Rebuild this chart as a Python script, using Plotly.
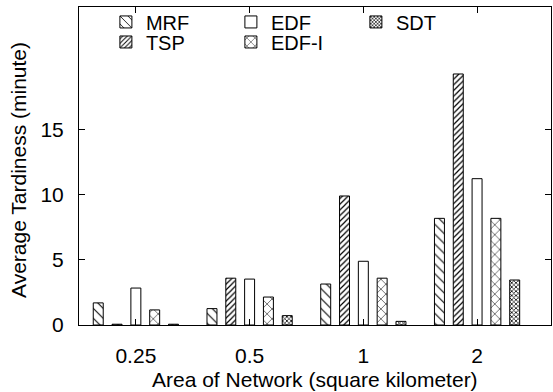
import plotly.graph_objects as go

categories = ["0.25", "0.5", "1", "2"]
series_names = ["MRF", "TSP", "EDF", "EDF-I", "SDT"]
mrf = [1.7, 1.26, 3.15, 8.2]
tsp = [0.06, 3.6, 9.92, 19.3]
edf = [2.84, 3.53, 4.9, 11.25]
edf_i = [1.16, 2.15, 3.6, 8.2]
sdt = [0.06, 0.72, 0.28, 3.46]
y_ticks = [0, 5, 10, 15]
x_title = "Area of Network (square kilometer)"
y_title = "Average Tardiness (minute)"

values = [mrf, tsp, edf, edf_i, sdt]
patterns = [
    dict(shape="\\", size=7, solidity=0.15),
    dict(shape="/", size=4, solidity=0.3),
    dict(shape=""),
    dict(shape="x", size=7, solidity=0.15),
    dict(shape="x", size=3, solidity=0.45),
]
# legend row for each series (gnuplot key: MRF EDF SDT / TSP EDF-I)
legend_rows = ["legend", "legend2", "legend", "legend2", "legend"]

FONT = "Liberation Sans"
FS = 21

fig = go.Figure()
for name, vals, pat, lg in zip(series_names, values, patterns, legend_rows):
    p = dict(pat)
    p.update(fgcolor="black", bgcolor="white", fillmode="replace")
    fig.add_trace(go.Bar(
        x=categories, y=vals, name=name, legend=lg,
        marker=dict(color="white", line=dict(color="black", width=1), pattern=p),
    ))

legend_style = dict(
    orientation="h", xanchor="left", yanchor="middle",
    entrywidth=80, entrywidthmode="pixels",
    bgcolor="rgba(0,0,0,0)", font=dict(size=20), traceorder="normal",
)

fig.update_layout(
    width=553, height=392,
    margin=dict(l=79, r=2, t=7, b=67),
    paper_bgcolor="white", plot_bgcolor="white",
    barmode="group", bargap=0.173, bargroupgap=0.47,
    font=dict(family=FONT, size=FS, color="black"),
    showlegend=True,
    legend=dict(legend_style, x=0.057, y=0.953),
    legend2=dict(legend_style, x=0.057, y=0.890),
    xaxis=dict(
        type="category", range=[-0.5, 3.65], automargin=False,
        showline=True, linecolor="black", linewidth=1, mirror="ticks",
        ticks="inside", ticklen=6, tickcolor="black",
        showgrid=False, zeroline=False,
        ticklabelstandoff=12,
    ),
    yaxis=dict(
        range=[0, 24.45], tickvals=y_ticks, automargin=False,
        showline=True, linecolor="black", linewidth=1, mirror="ticks",
        ticks="inside", ticklen=6, tickcolor="black",
        showgrid=False, zeroline=False,
        ticklabelstandoff=10,
    ),
    annotations=[
        dict(text=x_title, xref="paper", yref="paper", x=0.5, y=0,
             xanchor="center", yanchor="middle", yshift=-54, showarrow=False,
             font=dict(size=FS)),
        dict(text=y_title, xref="paper", yref="paper", x=0, y=0.5,
             xanchor="center", yanchor="middle", xshift=-61, yshift=-4,
             textangle=-90, showarrow=False, font=dict(size=FS)),
    ],
)

fig.write_html(
    "out.html",
    config={"displayModeBar": False},
    post_script="document.body.style.margin='0';document.body.style.overflow='hidden';",
)
